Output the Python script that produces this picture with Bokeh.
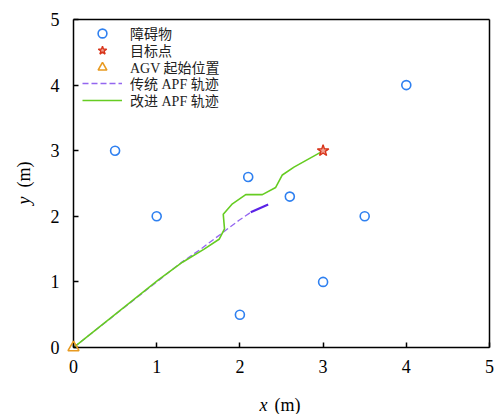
import math
from bokeh.plotting import figure
from bokeh.models import Range1d, Legend, LegendItem, Label, FixedTicker
from bokeh.embed import file_html
from bokeh.resources import INLINE

# ---- data ----
obst_x = [0.5, 1.0, 2.0, 2.1, 2.6, 3.0, 3.5, 4.0]
obst_y = [3.0, 2.0, 0.5, 2.6, 2.3, 1.0, 2.0, 4.0]
goal_x = [3.0]
goal_y = [3.0]
start_x = [0.0]
start_y = [0.0]
trad_x = [0.0, 1.30, 1.53, 1.76, 1.99, 2.13]
trad_y = [0.0, 1.30, 1.50, 1.72, 1.94, 2.06]
trad_stuck_x = [2.13, 2.34]
trad_stuck_y = [2.06, 2.18]
imp_x = [0.0, 1.02, 1.31, 1.57, 1.75, 1.815, 1.80, 1.91, 2.07, 2.27, 2.43, 2.51, 2.65, 2.99]
imp_y = [0.0, 1.03, 1.30, 1.50, 1.65, 1.81, 2.03, 2.19, 2.33, 2.33, 2.44, 2.63, 2.75, 2.99]
ticks = [0, 1, 2, 3, 4, 5]
legend_labels = ["障碍物", "目标点", "AGV 起始位置", "传统 APF 轨迹", "改进 APF 轨迹"]

SERIF = "Liberation Serif, Noto Sans CJK SC"

# frame covers the whole canvas; axes sit at x=0 / y=0
p = figure(width=499, height=414, output_backend="svg", toolbar_location=None,
           x_range=Range1d(-0.8774, 5.1202), y_range=Range1d(-1.0213, 5.2896),
           min_border=0)
p.grid.visible = False
p.outline_line_color = None
p.background_fill_color = "white"
p.border_fill_color = "white"

for ax in (p.xaxis[0], p.yaxis[0]):
    ax.fixed_location = 0
    ax.bounds = (ticks[0], ticks[-1])
    ax.ticker = FixedTicker(ticks=ticks)
    ax.major_tick_in = 5
    ax.major_tick_out = 0
    ax.minor_tick_line_color = None
    ax.axis_line_width = 1.5
    ax.major_tick_line_width = 1.5
    ax.major_label_text_font = "Liberation Serif"
    ax.major_label_text_font_size = "18px"
    ax.major_label_text_color = "black"
p.xaxis[0].major_label_standoff = 12
p.yaxis[0].major_label_standoff = 14

# top and right frame edges
p.segment(x0=[ticks[0], ticks[-1]], y0=[ticks[-1], ticks[0]],
          x1=[ticks[-1], ticks[-1]], y1=[ticks[-1], ticks[-1]],
          line_color="black", line_width=1.5)

r_trad = p.line(trad_x, trad_y, line_color="#9466f0", line_width=1.3, line_dash="6 3")
p.line(trad_stuck_x, trad_stuck_y, line_color="#5a22e6", line_width=2.2)
r_imp = p.line(imp_x, imp_y, line_color="#66cc22", line_width=1.6)
r_obs = p.scatter(obst_x, obst_y, marker="circle", size=9, fill_color=None,
                  line_color="#2f80f0", line_width=1.6)
r_goal = p.scatter(goal_x, goal_y, marker="star", size=12, fill_color="#f0a090",
                   line_color="#d8341a", line_width=1.4)
r_start = p.scatter(start_x, start_y, marker="triangle", size=11, fill_color=None,
                    line_color="#e89a20", line_width=1.6, level="overlay")

renderers = [r_obs, r_goal, r_start, r_trad, r_imp]
row_centers = [33, 50, 66.5, 83, 100]   # screen rows of the legend entries (from top)
GH = 22
for lab, rnd, c in zip(legend_labels, renderers, row_centers):
    lg = Legend(items=[LegendItem(label=lab, renderers=[rnd])],
                location=(82, 414 - c - GH / 2), margin=0, padding=0, spacing=0,
                glyph_width=40, glyph_height=GH, label_height=GH, label_standoff=8,
                label_text_font=SERIF, label_text_font_size="14px",
                label_text_color="#222222",
                border_line_alpha=0, background_fill_alpha=0)
    p.add_layout(lg)

lbl_kw = dict(text_font="Liberation Serif", text_font_size="18px", text_color="black",
              text_baseline="middle", text_align="left")
p.add_layout(Label(x=2.236, y=-0.884, text="x", text_font_style="italic", **lbl_kw))
p.add_layout(Label(x=2.416, y=-0.884, text="(m)", **lbl_kw))
p.add_layout(Label(x=-0.59, y=2.18, text="y", angle=math.pi / 2, text_font_style="italic", **lbl_kw))
p.add_layout(Label(x=-0.59, y=2.44, text="(m)", angle=math.pi / 2, **lbl_kw))

open("out.html", "w").write(file_html(p, INLINE))
